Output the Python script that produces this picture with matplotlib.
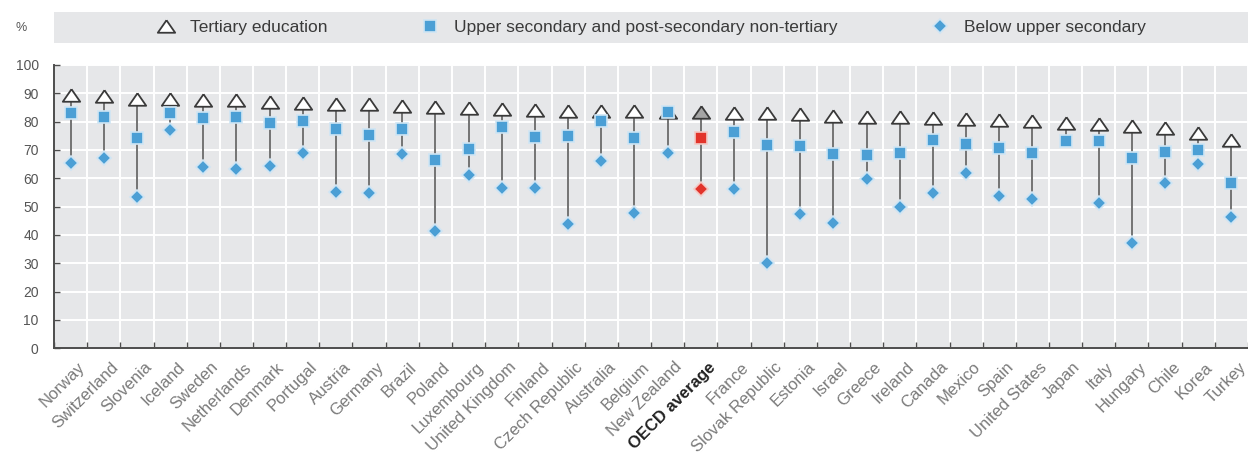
import numpy as np
import matplotlib.pyplot as plt
import matplotlib.transforms as mtransforms
from matplotlib.lines import Line2D
from matplotlib.patches import Rectangle

plt.rcParams["font.family"] = ["Liberation Sans", "DejaVu Sans"]

# ---------------------------------------------------------------------------
# Data (employment rates by educational attainment, %)
# ---------------------------------------------------------------------------
countries = ["Norway", "Switzerland", "Slovenia", "Iceland", "Sweden", "Netherlands",
             "Denmark", "Portugal", "Austria", "Germany", "Brazil", "Poland",
             "Luxembourg", "United Kingdom", "Finland", "Czech Republic", "Australia",
             "Belgium", "New Zealand", "OECD average", "France", "Slovak Republic",
             "Estonia", "Israel", "Greece", "Ireland", "Canada", "Mexico", "Spain",
             "United States", "Japan", "Italy", "Hungary", "Chile", "Korea", "Turkey"]

tertiary = [89.5, 89.2, 88.0, 88.0, 87.8, 87.6, 87.1, 86.5, 86.4, 86.1, 85.5, 85.3,
            84.9, 84.4, 84.1, 83.9, 83.9, 83.8, 83.5, 83.3, 83.2, 82.9, 82.7, 82.1,
            81.8, 81.5, 81.2, 81.1, 80.6, 80.3, 79.4, 79.2, 78.6, 77.6, 76.1, 73.5]

upper_secondary = [83.2, 81.5, 74.3, 82.9, 81.2, 81.8, 79.6, 80.2, 77.4, 75.3, 77.3, 66.5,
                   70.2, 78.2, 74.7, 74.9, 80.2, 74.1, 83.3, 74.1, 76.5, 71.8, 71.4, 68.6,
                   68.2, 68.8, 73.5, 72.0, 70.6, 68.8, 73.3, 73.3, 67.1, 69.4, 70.0, 58.2]

below_upper = [65.3, 67.3, 53.5, 77.0, 63.9, 63.4, 64.3, 69.0, 55.3, 54.7, 68.5, 41.5,
               61.2, 56.5, 56.7, 43.9, 66.2, 47.9, 69.0, 56.1, 56.2, 30.2, 47.4, 44.1,
               59.8, 50.0, 54.9, 61.8, 53.8, 52.6, np.nan, 51.2, 37.3, 58.2, 65.0, 46.5]

legend_labels = ["Tertiary education",
                 "Upper secondary and post-secondary non-tertiary",
                 "Below upper secondary"]

BLUE = "#4b9fd5"
RED = "#e2342b"
HALO = "#cfe5f4"
BG = "#e6e7e9"
DARK = "#4d4d4d"

# wide, flat triangle marker
tri = [(0, 0.72), (-1, -0.72), (1, -0.72), (0, 0.72)]

t = np.array(tertiary)
u = np.array(upper_secondary)
b = np.array(below_upper)
x = np.arange(len(countries))
is_avg = np.array([c == "OECD average" for c in countries])

fig = plt.figure(figsize=(12.48, 4.54), dpi=100)
ax = fig.add_axes([54 / 1248, 105.7 / 454, 1 - 54 / 1248, 283.3 / 454])
ax.set_facecolor(BG)

lo = np.nanmin(np.vstack([t, u, b]), axis=0)
hi = np.nanmax(np.vstack([t, u, b]), axis=0)
ax.vlines(x, lo, hi, color="#737373", lw=1.4, zorder=2)

# tertiary triangles
ax.plot(x[~is_avg], t[~is_avg], ls="none", marker=tri, ms=12.5, mfc="white",
        mec="#3a3a3a", mew=1.3, zorder=3)
ax.plot(x[is_avg], t[is_avg], ls="none", marker=tri, ms=12.5, mfc="#a5a5a5",
        mec="#3a3a3a", mew=1.3, zorder=3)

# upper secondary squares
ax.plot(x[~is_avg], u[~is_avg], ls="none", marker="s", ms=8, mfc=BLUE,
        mec=HALO, mew=1.2, zorder=4)
ax.plot(x[is_avg], u[is_avg], ls="none", marker="s", ms=8, mfc=RED,
        mec="#f3c9c5", mew=1.2, zorder=4)

# below upper secondary diamonds
ax.plot(x[~is_avg], b[~is_avg], ls="none", marker="D", ms=7.5, mfc=BLUE,
        mec=HALO, mew=1.2, zorder=5)
ax.plot(x[is_avg], b[is_avg], ls="none", marker="D", ms=7.5, mfc=RED,
        mec="#f3c9c5", mew=1.2, zorder=5)

# axes styling
ax.set_xlim(-0.5, 35.24)
ax.set_ylim(0, 100)
ax.set_yticks(np.arange(0, 101, 10))
ax.set_xticks(np.arange(-0.5, len(countries), 1))
ax.set_xticklabels([])
ax.grid(True, color="white", lw=1.4)
ax.set_axisbelow(True)
for s in ["top", "right"]:
    ax.spines[s].set_visible(False)
for s in ["left", "bottom"]:
    ax.spines[s].set_color(DARK)
    ax.spines[s].set_linewidth(1.4)
ax.tick_params(axis="both", direction="in", length=4, color=DARK, width=1)
ax.tick_params(axis="y", labelsize=10, labelcolor="#555555", pad=11)
for lab in ax.get_yticklabels():
    lab.set_fontfamily(["Liberation Sans Narrow", "Liberation Sans", "DejaVu Sans"])

# rotated country labels
offset = mtransforms.ScaledTranslation(5 / 72, -8 / 72, fig.dpi_scale_trans)
trans = ax.get_xaxis_transform() + offset
for xi, name in zip(x, countries):
    avg = name == "OECD average"
    ax.text(xi, 0, name, transform=trans, rotation=45, rotation_mode="anchor",
            ha="right", va="top", fontsize=12,
            color="#222222" if avg else "#7a7a7a",
            fontweight="bold" if avg else "normal")

# legend band
fig.patches.append(Rectangle((54 / 1248, 1 - 43 / 454), 1 - 54 / 1248, 31 / 454,
                             transform=fig.transFigure, facecolor=BG,
                             edgecolor="none", zorder=0))
handles = [
    Line2D([], [], ls="none", marker=tri, ms=12.5, mfc="white", mec="#3a3a3a", mew=1.3),
    Line2D([], [], ls="none", marker="s", ms=8, mfc=BLUE, mec=HALO, mew=1.2),
    Line2D([], [], ls="none", marker="D", ms=7.5, mfc=BLUE, mec=HALO, mew=1.2),
]
fig.legend(handles, legend_labels, loc="center", bbox_to_anchor=(0.522, 1 - 27.5 / 454),
           ncol=3, frameon=False, fontsize=12.5, labelcolor="#3a3a3a",
           handlelength=1.0, handletextpad=0.88, columnspacing=5.4)

fig.text(15 / 1248, 1 - 28 / 454, "%", fontsize=9, color="#555555", va="center")

plt.savefig("out.png", dpi=100)
